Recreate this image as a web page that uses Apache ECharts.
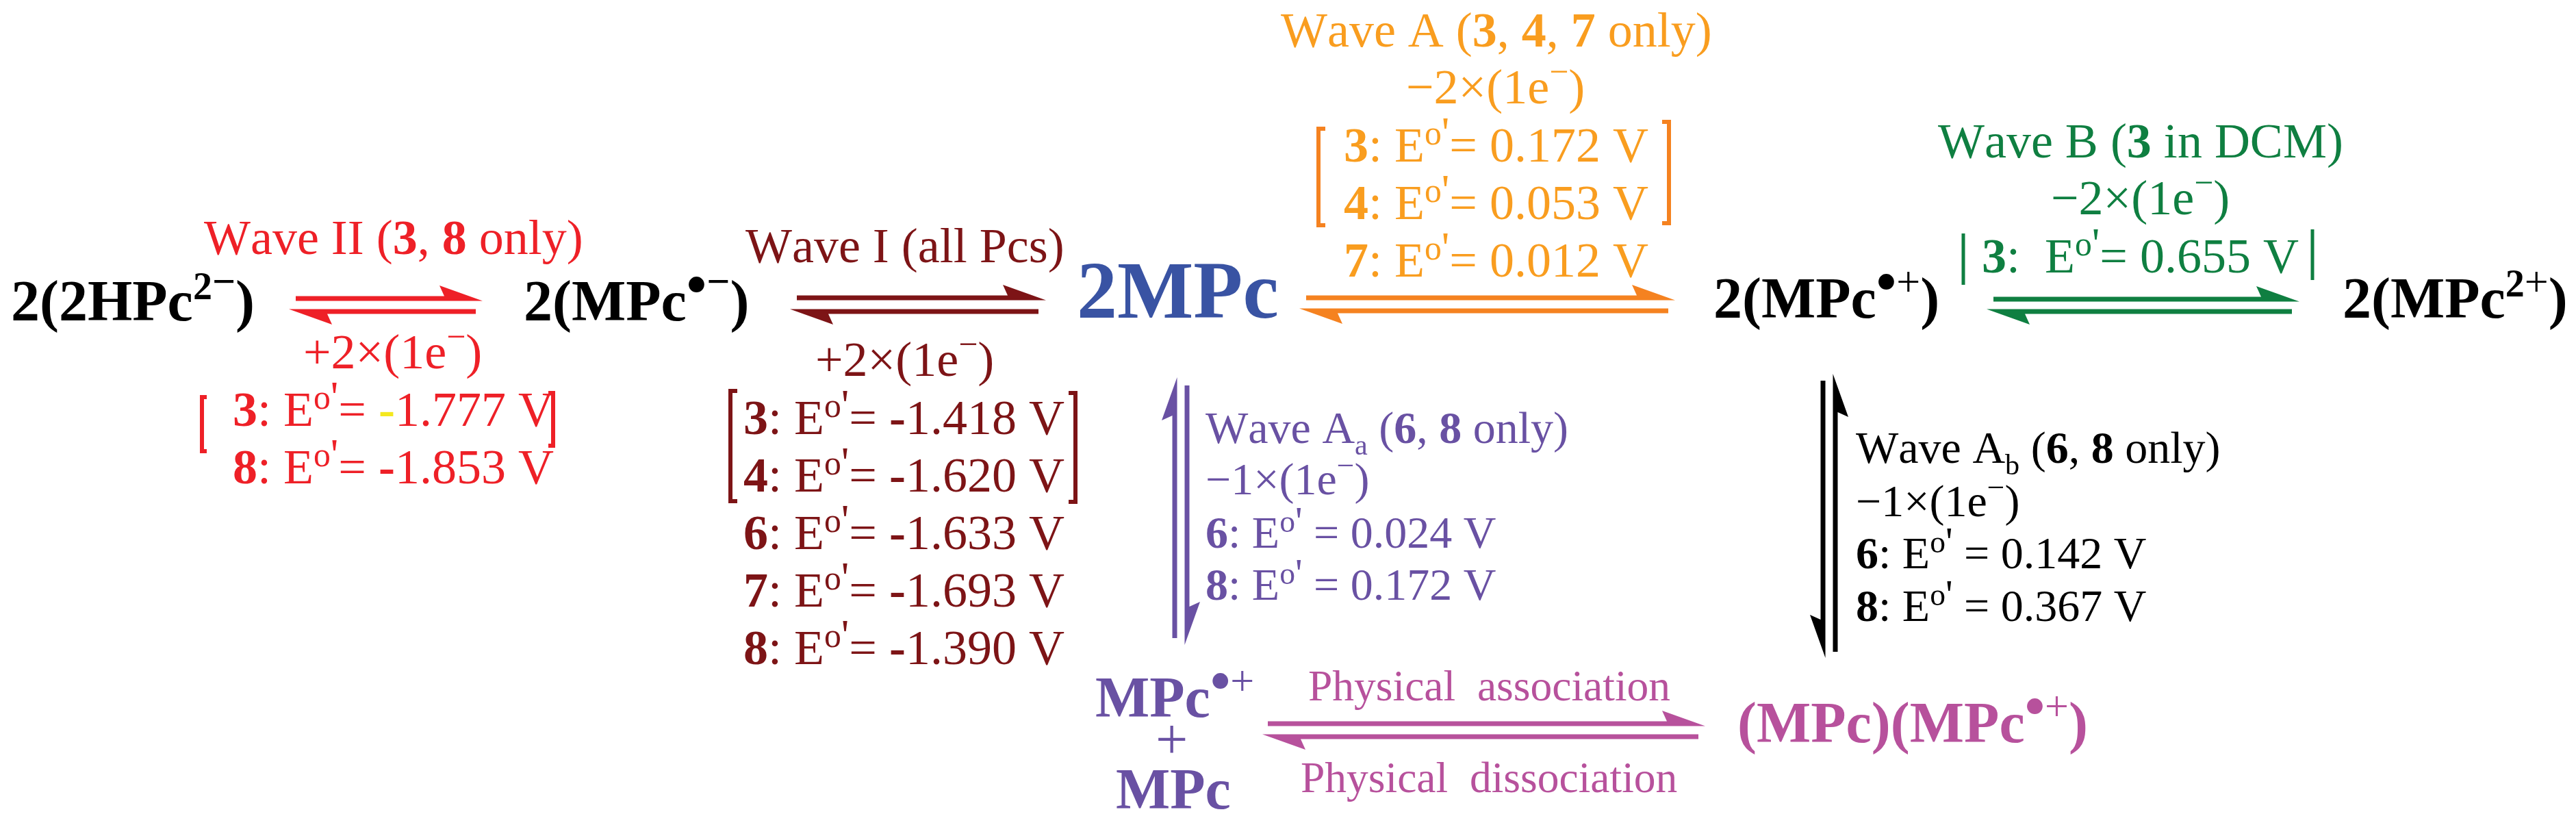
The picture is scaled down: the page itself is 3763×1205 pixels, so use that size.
<!DOCTYPE html>
<html>
<head>
<meta charset="utf-8">
<style>
    html, body { margin: 0; padding: 0; background: #fff; }
    #chart { width: 3763px; height: 1205px; }
</style>
<script src="https://cdn.jsdelivr.net/npm/echarts@6/dist/echarts.min.js"></script>
</head>
<body>
<div id="chart"></div>
<script>
const RED = '#ee2027', MAROON = '#7d1416', AMBER = '#f99d1f', ORANGE = '#f58220'
const GREEN = '#0f7f41', VIOLET = '#6951a3', PINK = '#b7519c', BLUE = '#3953a3', BLACK = '#000000'

// text of each wave, one entry per line
const waveTwo = ['{w|W}ave II ({b|3}, {b|8} only)', '+2×(1e{m|−})', "{b|3}: E{o|o}{p|'}= {y|-}1.777 V", "{b|8}: E{o|o}{p|'}= {b|-}1.853 V"]
const waveOne = ['{w|W}ave I (all Pcs)', '+2×(1e{m|−})', "{b|3}: E{o|o}{p|'}= {b|-}1.418 V", "{b|4}: E{o|o}{p|'}= {b|-}1.620 V", "{b|6}: E{o|o}{p|'}= {b|-}1.633 V", "{b|7}: E{o|o}{p|'}= {b|-}1.693 V", "{b|8}: E{o|o}{p|'}= {b|-}1.390 V"]
const waveA = ['{w|W}ave A ({b|3}, {b|4}, {b|7} only)', '−2×(1e{m|−})', "{b|3}: E{o|o}{p|'}= 0.172 V", "{b|4}: E{o|o}{p|'}= 0.053 V", "{b|7}: E{o|o}{p|'}= 0.012 V"]
const waveB = ['{w|W}ave B ({b|3} in DCM)', '−2×(1e{m|−})', "{b|3}:  E{o|o}{p|'}= 0.655 V"]
const waveAa = ['{w|W}ave A{s|a} ({b|6}, {b|8} only)', '−1×(1e{m|−})', "{b|6}: E{o|o}{p|'} = 0.024 V", "{b|8}: E{o|o}{p|'} = 0.172 V"]
const waveAb = ['{w|W}ave A{s|b} ({b|6}, {b|8} only)', '−1×(1e{m|−})', "{b|6}: E{o|o}{p|'} = 0.142 V", "{b|8}: E{o|o}{p|'} = 0.367 V"]
const physical = ['Physical  association', 'Physical  dissociation']

// where each line starts: x, baseline y, both in picture units
const waveTwoAt = [[298, 373], [443, 540], [340, 624], [340, 708]]
const waveOneAt = [[1089, 385], [1191, 551], [1086, 636], [1086, 720], [1086, 804], [1086, 888], [1086, 972]]
const waveAAt = [[1871, 70], [2054, 153], [1963, 238], [1963, 322], [1963, 406]]
const waveBAt = [[2831, 232], [2996, 315], [2895, 400]]
const waveAaAt = [[1761, 649], [1761, 724], [1761, 802], [1761, 878]]
const waveAbAt = [[2711, 678], [2711, 756], [2711, 832], [2711, 909]]
const physicalAt = [[1911, 1025], [1900, 1159]]

// the species in the scheme
const species = [
    ['2(2HPc{two|2}{minus|−})', 16, 471, BLACK, 84],
    ['2(MPc{dot|•}{minus|−})', 765, 471, BLACK, 84],
    ['2MPc', 1573, 468, BLUE, 118],
    ['2(MPc{dot|•}{plus|+})', 2503, 467, BLACK, 84],
    ['2(MPc{two|2}{plus|+})', 3422, 467, BLACK, 84],
    ['MPc{dot|•}{plus|+}', 1600, 1050, VIOLET, 84],
    ['{cross|+}', 1688, 1110, VIOLET, 84],
    ['MPc', 1630, 1184, VIOLET, 84],
    ['(MPc)(MPc{dot|•}{plus|+})', 2538, 1087, PINK, 84]
]

// half arrows: from x, from y, to x, to y, barb side, colour
const arrows = [
    [432, 436, 705, 436, 1, RED], [695, 455, 422, 455, 1, RED],
    [1164, 435, 1528, 435, 1, MAROON], [1517, 455, 1154, 455, 1, MAROON],
    [1908, 435, 2447, 435, 1, ORANGE], [2437, 454, 1898, 454, 1, ORANGE],
    [2912, 437, 3359, 437, 1, GREEN], [3348, 455, 2902, 455, 1, GREEN],
    [1716, 932, 1716, 551, 1, VIOLET], [1734, 563, 1734, 942, 1, VIOLET],
    [2663, 556, 2663, 961, -1, BLACK], [2681, 952, 2681, 546, -1, BLACK],
    [1852, 1057, 2491, 1057, 1, PINK], [2481, 1076, 1844, 1076, 1, PINK]
]

// square brackets: spine x, top y, bottom y, foot length, colour
const brackets = [
    [295, 580, 659, 7, RED], [808, 574, 651, -7, RED],
    [1067, 571, 732, 10, MAROON], [1571, 574, 733, -10, MAROON],
    [1926, 188, 329, 10, ORANGE], [2438, 178, 326, -10, ORANGE],
    [2868, 341, 416, 0, GREEN], [3378, 335, 409, 0, GREEN]
]

const FAMILY = '"Liberation Serif", "Times New Roman", serif'
const MID = 0.29 // where canvas middle sits above the baseline, in em

// small token raised (or dropped) against its line, done with padding as rich text has no baseline shift
function raised(size, tokenSize, raise, weight, color) {
    let s = raise - MID * (size - tokenSize)
    return {
        fontFamily: FAMILY, fontSize: tokenSize, fontWeight: weight, fill: color,
        padding: s > 0 ? [0, 0, 2 * s, 0] : [-2 * s, 0, 0, 0]
    }
}

function waveRich(color, size) {
    return {
        // W on its own token so canvas does not kern it into the a
        w: { fontFamily: FAMILY, fontSize: size, fontWeight: 'normal', fill: color },
        b: { fontFamily: FAMILY, fontSize: size, fontWeight: 'bold', fill: color },
        y: { fontFamily: FAMILY, fontSize: size, fontWeight: 'bold', fill: '#f4e81e' },
        o: raised(size, size * 0.69, size * 0.36, 'normal', color),
        p: raised(size, size * 0.89, size * 0.29, 'normal', color),
        m: raised(size, size * 0.69, size * 0.42, 'normal', color),
        s: raised(size, size * 0.64, -size * 0.24, 'normal', color)
    }
}

function speciesRich(color, size) {
    return {
        two: raised(size, 56, 32, 'bold', color),
        minus: raised(size, 60, 38, 'bold', color),
        dot: raised(size, 84, 24, 'bold', color),
        plus: raised(size, 62, 33, 'normal', color),
        cross: { fontFamily: FAMILY, fontSize: size, fontWeight: 'normal', fill: color }
    }
}

const rows = []
function place(lines, at, color, size) {
    for (let i = 0, l = lines.length; i < l; i++) {
        rows.push({ text: lines[i], x: at[i][0], y: at[i][1], color: color, size: size, weight: 'normal', rich: waveRich(color, size) })
    }
}
place(waveTwo, waveTwoAt, RED, 72)
place(waveOne, waveOneAt, MAROON, 72)
place(waveA, waveAAt, AMBER, 72)
place(waveB, waveBAt, GREEN, 72)
place(waveAa, waveAaAt, VIOLET, 66)
place(waveAb, waveAbAt, BLACK, 66)
place(physical, physicalAt, PINK, 63.5)
species.forEach(s => {
    rows.push({ text: s[0], x: s[1], y: s[2], color: s[3], size: s[4], weight: 'bold', rich: speciesRich(s[3], s[4]) })
})

function renderText(params, api) {
    let row = rows[params.dataIndex]
    let p = api.coord([api.value(0), api.value(1)])
    return {
        type: 'text',
        style: {
            x: p[0], y: p[1] - MID * row.size,
            text: row.text, rich: row.rich,
            fontFamily: FAMILY, fontSize: row.size, fontWeight: row.weight,
            lineHeight: row.size * 3,
            fill: row.color, align: 'left', verticalAlign: 'middle'
        }
    }
}

function renderArrow(params, api) {
    let a = arrows[params.dataIndex]
    let from = api.coord([a[0], a[1]])
    let to = api.coord([a[2], a[3]])
    let len = Math.hypot(to[0] - from[0], to[1] - from[1])
    let d = [(to[0] - from[0]) / len, (to[1] - from[1]) / len]
    let n = [d[1] * a[4], -d[0] * a[4]] // barb side
    let at = (along, off) => [to[0] + d[0] * along + n[0] * off, to[1] + d[1] * along + n[1] * off]
    return {
        type: 'polygon',
        shape: {
            points: [
                [from[0] + n[0] * 3.5, from[1] + n[1] * 3.5],
                at(-56, 3.5), at(-63, 19), at(0, -3.5),
                [from[0] - n[0] * 3.5, from[1] - n[1] * 3.5]
            ]
        },
        style: { fill: a[5] }
    }
}

function renderBracket(params, api) {
    let b = brackets[params.dataIndex]
    let top = api.coord([b[0], b[1]])
    let bottom = api.coord([b[0], b[2]])
    return {
        type: 'polyline',
        shape: { points: [[top[0] + b[3], top[1]], top, bottom, [bottom[0] + b[3], bottom[1]]] },
        style: { fill: 'none', stroke: b[4], lineWidth: b[3] === 0 ? 5 : 6, lineJoin: 'miter' }
    }
}

let chart = echarts.init(document.getElementById('chart'), null, { renderer: 'canvas' })
chart.setOption({
    animation: false,
    backgroundColor: '#ffffff',
    grid: { left: 0, right: 0, top: 0, bottom: 0 },
    xAxis: { type: 'value', min: 0, max: 3763, show: false },
    yAxis: { type: 'value', min: 0, max: 1205, inverse: true, show: false },
    series: [
        {
            type: 'custom', clip: false, renderItem: renderArrow,
            data: arrows.map(a => [a[0], a[1], a[2], a[3]]),
            encode: { x: [0, 2], y: [1, 3] }
        },
        {
            type: 'custom', clip: false, renderItem: renderBracket,
            data: brackets.map(b => [b[0], b[1], b[2]]),
            encode: { x: 0, y: [1, 2] }
        },
        {
            type: 'custom', clip: false, renderItem: renderText,
            data: rows.map(r => [r.x, r.y]),
            encode: { x: 0, y: 1 }
        }
    ]
})
</script>
</body>
</html>
